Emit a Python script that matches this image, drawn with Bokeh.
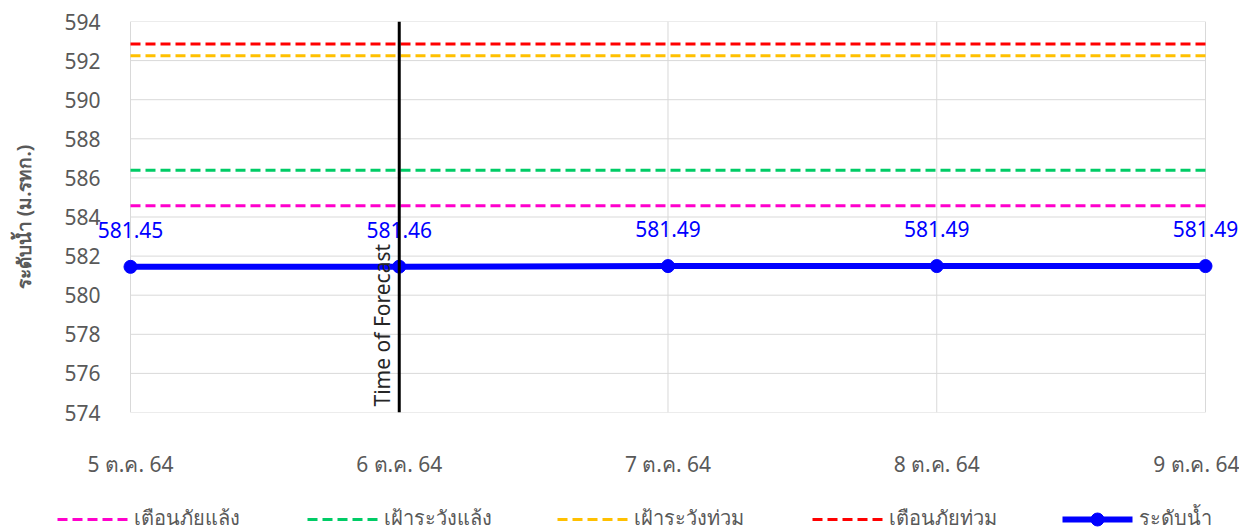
from bokeh.plotting import figure
from bokeh.layouts import column
from bokeh.models import (ColumnDataSource, LabelSet, Label, Span, FixedTicker, Range1d)
from bokeh.core.properties import value
from bokeh.embed import file_html
from bokeh.resources import INLINE

# ---- data ----
dates = ["5 ต.ค. 64", "6 ต.ค. 64", "7 ต.ค. 64", "8 ต.ค. 64", "9 ต.ค. 64"]
water_level = [581.45, 581.46, 581.49, 581.49, 581.49]
drought_warning = 584.58   # เตือนภัยแล้ง
drought_watch = 586.39     # เฝ้าระวังแล้ง
flood_watch = 592.25       # เฝ้าระวังท่วม
flood_warning = 592.85     # เตือนภัยท่วม
forecast_date = "6 ต.ค. 64"
y_ticks = list(range(574, 595, 2))
legend_labels = ["เตือนภัยแล้ง", "เฝ้าระวังแล้ง", "เฝ้าระวังท่วม", "เตือนภัยท่วม", "ระดับน้ำ"]

FONT = "Noto Sans"
GRAY = "#595959"
GRID = "#d9d9d9"
C_DW, C_DWATCH, C_FWATCH, C_FW, C_LVL = "#FF00CC", "#00CC66", "#FFC000", "#FF0000", "#0000FF"
DASH = "10 5"

xs = list(range(len(dates)))
n = len(dates) - 1
ymin, ymax = y_ticks[0], y_ticks[-1]
src = ColumnDataSource(dict(x=xs, y=water_level,
                            lbl=[f"{v:.2f}" for v in water_level]))

W = 1239
FL = 50                       # frame left (canvas px)
pad_l, pad_r = 0.29767, 0.12651
p = figure(width=W, height=480, output_backend="svg", toolbar_location=None,
           x_range=Range1d(-pad_l, n + pad_r), y_range=Range1d(ymin, ymax),
           min_border_left=FL, min_border_right=0, min_border_top=21,
           min_border_bottom=62)
p.outline_line_color = None
p.grid.visible = False

# plot-area grid lines (only over the category span)
p.segment(x0=[0] * len(y_ticks), y0=y_ticks, x1=[n] * len(y_ticks), y1=y_ticks,
          line_color=GRID, line_width=1)
p.segment(x0=xs, y0=[ymin] * len(xs), x1=xs, y1=[ymax] * len(xs),
          line_color=GRID, line_width=1)

# axes
p.xaxis.ticker = FixedTicker(ticks=xs)
p.xaxis.major_label_overrides = {i: d for i, d in enumerate(dates)}
p.yaxis.ticker = FixedTicker(ticks=y_ticks)
for ax in (p.xaxis[0], p.yaxis[0]):
    ax.axis_line_color = None
    ax.major_tick_line_color = None
    ax.minor_tick_line_color = None
    ax.major_label_text_font = FONT
    ax.major_label_text_color = GRAY
p.xaxis.major_label_text_font_size = "21px"
p.yaxis.major_label_text_font_size = "21px"
p.xaxis.major_label_standoff = 31
p.yaxis.major_label_standoff = -56
p.yaxis.axis_label = "ระดับน้ำ (ม.รทก.)"
p.yaxis.axis_label_text_font = FONT
p.yaxis.axis_label_text_font_size = "19px"
p.yaxis.axis_label_text_font_style = "bold"
p.yaxis.axis_label_text_color = GRAY
p.yaxis.axis_label_standoff = 24

# threshold lines
p.line(xs, [drought_warning] * len(xs), line_color=C_DW, line_width=3, line_dash=DASH)
p.line(xs, [drought_watch] * len(xs), line_color=C_DWATCH, line_width=3, line_dash=DASH)
p.line(xs, [flood_watch] * len(xs), line_color=C_FWATCH, line_width=3, line_dash=DASH)
p.line(xs, [flood_warning] * len(xs), line_color=C_FW, line_width=3, line_dash=DASH)

# water level
p.line("x", "y", source=src, line_color=C_LVL, line_width=6)
p.scatter("x", "y", source=src, size=13, fill_color=C_LVL, line_color=C_LVL)

labels = LabelSet(x="x", y="y", text="lbl", source=src, text_align="center",
                  text_baseline="bottom", y_offset=29, text_color=C_LVL,
                  text_font=value(FONT), text_font_size="21px")
p.add_layout(labels)

fx = dates.index(forecast_date)
p.add_layout(Span(location=fx, dimension="height", line_color="black", line_width=3))
p.add_layout(Label(x=fx, y=ymin, text="Time of Forecast", angle=1.5708,
                   angle_units="rad", x_offset=-3, y_offset=6,
                   text_align="left", text_baseline="bottom",
                   text_color="#262626", text_font=FONT, text_font_size="21px"))

# ---- legend strip (pixel-scaled strip below the chart, frame aligned with the chart) ----
LH = 51
lg = figure(width=W, height=LH, output_backend="svg", toolbar_location=None,
            x_axis_type=None, y_axis_type=None, x_range=Range1d(FL, W), y_range=Range1d(0, LH),
            min_border_left=FL, min_border_right=0, min_border_top=0, min_border_bottom=0)
lg.outline_line_color = None
lg.grid.visible = False
item_x = [57, 307, 557, 812, 1062]
gl, gy = 70, 12
styles = [(C_DW, 3, DASH), (C_DWATCH, 3, DASH), (C_FWATCH, 3, DASH), (C_FW, 3, DASH),
          (C_LVL, 6, "solid")]
for x0, (col, lw, dash) in zip(item_x, styles):
    lg.line([x0, x0 + gl], [gy, gy], line_color=col, line_width=lw, line_dash=dash)
lg.scatter([item_x[-1] + gl / 2], [gy], size=13, fill_color=C_LVL, line_color=C_LVL)
lg.text(x=[x + gl + 6 for x in item_x], y=[gy + 2] * len(item_x), text=legend_labels,
        text_font=value(FONT), text_font_size="20px", text_color=GRAY,
        text_align="left", text_baseline="middle")

layout = column(p, lg, spacing=0)
open("out.html", "w").write(file_html(layout, INLINE))
